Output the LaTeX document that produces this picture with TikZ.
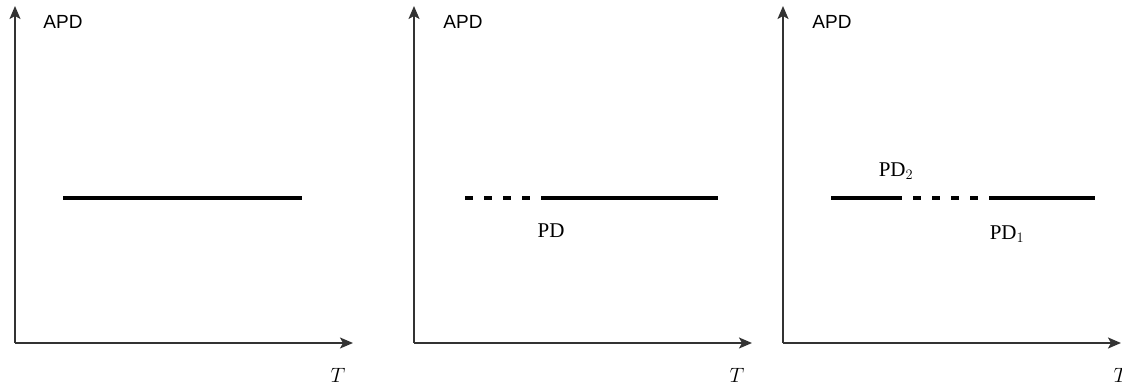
\documentclass[tikz,border=0pt]{standalone}
\usepackage{fontspec}
\setmainfont{Liberation Serif}
\setsansfont{Liberation Sans}
\usetikzlibrary{arrows.meta}
\begin{document}
\begin{tikzpicture}[x=1pt,y=-1pt,
  axis/.style={line width=1.8pt,draw=black!80,-{Stealth[length=13pt,width=11pt,inset=3pt]}},
  level/.style={line width=3.3pt,draw=black},
  levdash/.style={line width=3.3pt,draw=black,dash pattern=on 8pt off 11pt},
  axlbl/.style={font=\sffamily\fontsize{19}{22}\selectfont,inner sep=0pt},
  serlbl/.style={font=\fontsize{21}{24}\selectfont,inner sep=0pt}]
\useasboundingbox (0,0) rectangle (1122,387);
% panel 1
\coordinate (o1) at (15,343);
\coordinate (y1) at (15,6);
\coordinate (x1) at (353,343);
\draw[axis] (o1) -- (y1);
\draw[axis] (o1) -- (x1);
\node[axlbl] (apd1) at (63,22) {APD};
\node[serlbl] (t1) at (338,375) {$T$};
\coordinate (a1) at (63,198);
\coordinate (b1) at (302,198);
\draw[level] (a1) -- (b1);
% panel 2
\coordinate (o2) at (414,343);
\coordinate (y2) at (414,6);
\coordinate (x2) at (752,343);
\draw[axis] (o2) -- (y2);
\draw[axis] (o2) -- (x2);
\node[axlbl] (apd2) at (463,22) {APD};
\node[serlbl] (t2) at (737,375) {$T$};
\coordinate (a2) at (465,198);
\coordinate (m2) at (534,198);
\coordinate (n2) at (541,198);
\coordinate (b2) at (718,198);
\draw[levdash] (a2) -- (m2);
\draw[level] (n2) -- (b2);
\node[serlbl] (pd) at (551,231) {PD};
% panel 3
\coordinate (o3) at (783,343);
\coordinate (y3) at (783,6);
\coordinate (x3) at (1121,343);
\draw[axis] (o3) -- (y3);
\draw[axis] (o3) -- (x3);
\node[axlbl] (apd3) at (832,22) {APD};
\node[serlbl] (t3) at (1121,375) {$T$};
\coordinate (a3) at (831,198);
\coordinate (c3) at (902,198);
\coordinate (d3) at (913,198);
\coordinate (e3) at (979,198);
\coordinate (f3) at (989,198);
\coordinate (b3) at (1095,198);
\draw[level] (a3) -- (c3);
\draw[levdash] (d3) -- (e3);
\draw[level] (f3) -- (b3);
\node[serlbl] (pd2) at (896,171) {PD$_2$};
\node[serlbl] (pd1) at (1007,234) {PD$_1$};
\end{tikzpicture}
\end{document}
